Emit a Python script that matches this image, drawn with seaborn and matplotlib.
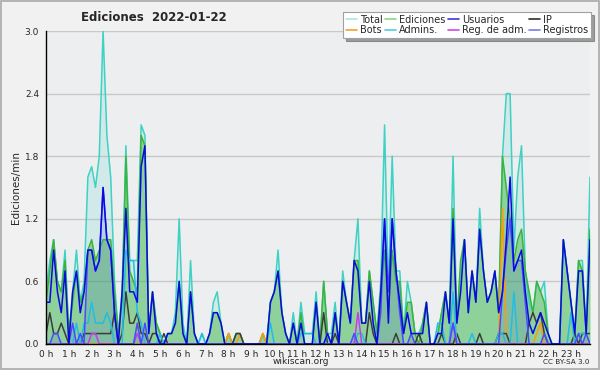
import numpy as np
import pandas as pd
import matplotlib.pyplot as plt
import seaborn as sns
from matplotlib.lines import Line2D
from matplotlib.patches import Rectangle
from matplotlib.ticker import MultipleLocator

# edits per minute, one value every 10 minutes (6 per hour, 0h..23h)
total = [
    0.5, 0.8, 1.0, 0.6, 0.5, 0.9,
    0.1, 0.5, 0.9, 0.4, 0.6, 1.6,
    1.7, 1.5, 1.8, 3.0, 2.0, 1.6,
    0.6, 0.1, 0.5, 1.9, 0.8, 0.8,
    0.8, 2.1, 2.0, 0.1, 0.5, 0.2,
    0.1, 0.0, 0.1, 0.1, 0.3, 1.2,
    0.2, 0.0, 0.8, 0.1, 0.0, 0.1,
    0.0, 0.1, 0.4, 0.5, 0.2, 0.0,
    0.1, 0.0, 0.1, 0.1, 0.0, 0.0,
    0.0, 0.0, 0.0, 0.1, 0.0, 0.4,
    0.5, 0.9, 0.3, 0.1, 0.0, 0.3,
    0.0, 0.4, 0.1, 0.1, 0.1, 0.5,
    0.0, 0.6, 0.1, 0.1, 0.4, 0.0,
    0.7, 0.4, 0.2, 0.8, 1.2, 0.2,
    0.2, 0.7, 0.4, 0.1, 0.6, 2.1,
    0.5, 1.8, 0.7, 0.7, 0.1, 0.6,
    0.4, 0.1, 0.1, 0.2, 0.4, 0.0,
    0.0, 0.1, 0.3, 0.5, 0.2, 1.8,
    0.2, 0.7, 1.0, 0.3, 0.7, 0.4,
    1.3, 0.7, 0.4, 0.5, 0.7, 0.3,
    1.8, 2.4, 2.4, 0.9, 1.6, 1.9,
    0.7, 0.4, 0.3, 0.6, 0.5, 0.6,
    0.1, 0.0, 0.0, 0.0, 1.0, 0.7,
    0.4, 0.1, 0.8, 0.8, 0.1, 1.6,
]
ediciones = [
    0.4, 0.7, 1.0, 0.6, 0.5, 0.8,
    0.1, 0.4, 0.7, 0.4, 0.5, 0.9,
    1.0, 0.8, 0.9, 1.0, 1.0, 1.0,
    0.5, 0.1, 0.4, 1.8, 0.7, 0.6,
    0.5, 2.0, 1.9, 0.1, 0.5, 0.2,
    0.1, 0.0, 0.1, 0.1, 0.2, 0.6,
    0.1, 0.0, 0.5, 0.1, 0.0, 0.0,
    0.0, 0.1, 0.3, 0.3, 0.2, 0.0,
    0.1, 0.0, 0.1, 0.1, 0.0, 0.0,
    0.0, 0.0, 0.0, 0.1, 0.0, 0.4,
    0.5, 0.7, 0.3, 0.1, 0.0, 0.2,
    0.0, 0.3, 0.0, 0.0, 0.0, 0.4,
    0.0, 0.6, 0.1, 0.0, 0.3, 0.0,
    0.6, 0.4, 0.2, 0.8, 0.8, 0.2,
    0.2, 0.7, 0.4, 0.1, 0.5, 0.9,
    0.3, 0.9, 0.6, 0.6, 0.1, 0.4,
    0.4, 0.1, 0.0, 0.2, 0.4, 0.0,
    0.0, 0.1, 0.3, 0.5, 0.2, 1.3,
    0.2, 0.8, 1.0, 0.3, 0.7, 0.4,
    1.1, 0.7, 0.4, 0.5, 0.7, 0.3,
    1.8, 1.5, 1.2, 0.8, 1.0, 1.1,
    0.7, 0.5, 0.3, 0.6, 0.5, 0.4,
    0.1, 0.0, 0.0, 0.0, 1.0, 0.7,
    0.4, 0.1, 0.8, 0.7, 0.1, 1.1,
]
usuarios = [
    0.4, 0.4, 0.9, 0.5, 0.3, 0.7,
    0.0, 0.5, 0.7, 0.3, 0.5, 0.9,
    0.9, 0.7, 0.8, 1.5, 1.0, 0.9,
    0.3, 0.0, 0.5, 1.3, 0.5, 0.5,
    0.4, 1.7, 1.9, 0.1, 0.5, 0.1,
    0.0, 0.0, 0.1, 0.1, 0.2, 0.6,
    0.1, 0.0, 0.5, 0.1, 0.0, 0.0,
    0.0, 0.1, 0.3, 0.3, 0.2, 0.0,
    0.0, 0.0, 0.0, 0.0, 0.0, 0.0,
    0.0, 0.0, 0.0, 0.0, 0.0, 0.4,
    0.5, 0.7, 0.3, 0.1, 0.0, 0.2,
    0.0, 0.2, 0.0, 0.0, 0.0, 0.4,
    0.0, 0.0, 0.1, 0.0, 0.3, 0.0,
    0.6, 0.4, 0.2, 0.8, 0.7, 0.2,
    0.2, 0.6, 0.2, 0.0, 0.5, 1.2,
    0.2, 1.2, 0.7, 0.4, 0.1, 0.3,
    0.1, 0.1, 0.1, 0.1, 0.4, 0.0,
    0.0, 0.1, 0.1, 0.5, 0.2, 1.2,
    0.2, 0.5, 1.0, 0.3, 0.7, 0.4,
    1.1, 0.7, 0.4, 0.5, 0.7, 0.3,
    0.5, 1.0, 1.6, 0.7, 0.8, 0.9,
    0.5, 0.2, 0.1, 0.2, 0.3, 0.2,
    0.1, 0.0, 0.0, 0.0, 1.0, 0.7,
    0.4, 0.1, 0.7, 0.7, 0.1, 1.0,
]
ip = [
    0.1, 0.3, 0.1, 0.1, 0.2, 0.1,
    0.0, 0.0, 0.0, 0.0, 0.1, 0.1,
    0.1, 0.1, 0.1, 0.1, 0.1, 0.1,
    0.3, 0.0, 0.1, 0.5, 0.2, 0.2,
    0.3, 0.1, 0.1, 0.0, 0.1, 0.1,
    0.0, 0.1, 0.0, 0.0, 0.0, 0.0,
    0.0, 0.0, 0.0, 0.0, 0.0, 0.0,
    0.0, 0.0, 0.0, 0.0, 0.0, 0.0,
    0.0, 0.0, 0.1, 0.1, 0.0, 0.0,
    0.0, 0.0, 0.0, 0.0, 0.0, 0.0,
    0.0, 0.0, 0.0, 0.0, 0.0, 0.0,
    0.0, 0.0, 0.0, 0.0, 0.0, 0.0,
    0.0, 0.3, 0.0, 0.0, 0.1, 0.0,
    0.0, 0.0, 0.0, 0.0, 0.0, 0.0,
    0.0, 0.3, 0.1, 0.0, 0.0, 0.0,
    0.0, 0.0, 0.1, 0.0, 0.0, 0.0,
    0.0, 0.0, 0.1, 0.0, 0.0, 0.0,
    0.0, 0.0, 0.1, 0.0, 0.0, 0.0,
    0.1, 0.0, 0.0, 0.0, 0.0, 0.0,
    0.1, 0.0, 0.0, 0.0, 0.0, 0.1,
    0.1, 0.1, 0.0, 0.0, 0.0, 0.0,
    0.0, 0.2, 0.3, 0.2, 0.3, 0.1,
    0.0, 0.0, 0.0, 0.0, 0.0, 0.0,
    0.0, 0.1, 0.0, 0.1, 0.1, 0.1,
]
bots = [0.0] * 144
for i, v in [(48, 0.1), (51, 0.1), (57, 0.1), (119, 0.1), (120, 1.3),
             (121, 0.1), (129, 0.1), (130, 0.2)]:
    bots[i] = v
admins = [0.0] * 144
for i, v in [(8, 0.2), (10, 0.2), (11, 0.2), (12, 0.4), (13, 0.2), (14, 0.2),
             (15, 0.2), (16, 0.3), (17, 0.2), (21, 0.9), (22, 0.8), (23, 0.8),
             (24, 0.3), (25, 0.2), (30, 0.1), (41, 0.1), (59, 0.2),
             (67, 0.1), (68, 0.1), (69, 0.1), (70, 0.1), (74, 0.1),
             (82, 0.1), (83, 0.1), (103, 0.2), (104, 0.2), (107, 0.5),
             (112, 0.1), (119, 0.1), (120, 0.1), (123, 0.5), (138, 0.3),
             (140, 0.1), (141, 0.1), (142, 0.1)]:
    admins[i] = v
reg_adm = [0.0] * 144
for i, v in [(12, 0.1), (13, 0.1), (24, 0.1), (82, 0.3), (107, 0.2)]:
    reg_adm[i] = v
registros = [0.0] * 144
for i, v in [(2, 0.1), (3, 0.1), (7, 0.2), (9, 0.1), (11, 0.9), (12, 0.9),
             (13, 0.7), (14, 0.8), (15, 1.5), (16, 1.0), (17, 0.9), (18, 0.3),
             (24, 0.2), (26, 0.2), (81, 0.1), (88, 0.3), (89, 1.2), (90, 0.5),
             (91, 1.2), (92, 0.7), (93, 0.3), (96, 0.1), (107, 0.2),
             (120, 0.5), (121, 0.9), (122, 1.2), (123, 0.7), (124, 0.8),
             (125, 0.8), (126, 0.4), (131, 0.1), (140, 0.1), (142, 0.1)]:
    registros[i] = v

hours = [f"{h} h" for h in range(24)]

series = {
    "Total": total, "Ediciones": ediciones, "Bots": bots, "IP": ip,
    "Admins.": admins, "Reg. de adm.": reg_adm, "Registros": registros,
    "Usuarios": usuarios,
}
line_colors = {
    "Total": "#3ed2c2", "Ediciones": "#3cb43c", "Bots": "#ff9a10",
    "IP": "#3c3c3c", "Admins.": "#22bde3", "Reg. de adm.": "#c83ce6",
    "Registros": "#4a4aff", "Usuarios": "#0a0ae0",
}
legend_colors = {
    "Total": "#a8e8e0", "Bots": "#f5a030", "Ediciones": "#8ad88a",
    "Admins.": "#50cce0", "Usuarios": "#3a3ad8", "Reg. de adm.": "#d048e8",
    "IP": "#303030", "Registros": "#7a7aec",
}

df = pd.DataFrame(series)
df["slot"] = np.arange(144)
long = df.melt(id_vars="slot", var_name="serie", value_name="val")

sns.set_style("white")
plt.rcParams["font.family"] = ["DejaVu Sans"]

fig = plt.figure(figsize=(6, 3.7), dpi=100, facecolor="#f1f1f1")
fig.patches.append(Rectangle((0.002, 0.003), 0.996, 0.994, transform=fig.transFigure,
                             fill=False, edgecolor="#a8a8a8", lw=1.2))
ax = fig.add_axes([0.0767, 0.0703, 0.9066, 0.8459])
ax.set_facecolor("#eceef0")

ax.fill_between(df["slot"], df["Total"], color="#3ed2c2", alpha=0.15, lw=0)
ax.fill_between(df["slot"], df["Ediciones"], color="#3cb43c", alpha=0.45, lw=0)
ax.fill_between(df["slot"], df["Registros"], color="#5070c0", alpha=0.2, lw=0)

sns.lineplot(data=long, x="slot", y="val", hue="serie", hue_order=list(series),
             palette=line_colors, linewidth=1.1, legend=False, ax=ax)

ax.set_xlim(0, 143)
ax.set_ylim(0, 3.0)
ax.set_xticks(np.arange(0, 144, 6))
ax.set_xticklabels(hours, fontsize=6.5)
ax.xaxis.set_minor_locator(MultipleLocator(1))
ax.yaxis.set_major_locator(MultipleLocator(0.6))
ax.yaxis.set_minor_locator(MultipleLocator(0.15))
ax.yaxis.set_major_formatter(lambda v, p: f"{v:.1f}")
ax.tick_params(axis="y", labelsize=6.5, length=4, width=0.8, pad=1)
ax.tick_params(axis="x", length=4, width=0.8, pad=0)
ax.tick_params(which="minor", length=3, width=0.8)
ax.grid(axis="y", color="#c8c8c8", lw=1)
ax.set_axisbelow(True)
for s in ["top", "right"]:
    ax.spines[s].set_visible(False)
for s in ["left", "bottom"]:
    ax.spines[s].set_color("black")
    ax.spines[s].set_linewidth(1)

ax.set_xlabel("")
ax.set_ylabel("Ediciones/min", fontsize=7.5, labelpad=3)
fig.text(0.502, 0.022, "wikiscan.org", ha="center", va="center", fontsize=6.5)
fig.text(0.983, 0.022, "CC BY-SA 3.0", ha="right", va="center", fontsize=5.2)

fig.text(0.257, 0.953, "Ediciones  2022-01-22", ha="center", va="center",
         fontsize=8.5, fontweight="bold")

order = ["Total", "Bots", "Ediciones", "Admins.", "Usuarios", "Reg. de adm.",
         "IP", "Registros"]
handles = [Line2D([], [], color=legend_colors[k], lw=1.2) for k in order]
leg = fig.legend(handles, order, loc="upper right", bbox_to_anchor=(0.985, 0.968),
                 ncol=4, fontsize=7, frameon=True, fancybox=False, shadow=True,
                 framealpha=1, edgecolor="#a0a0a0", handlelength=1.1,
                 handletextpad=0.3, columnspacing=0.3, labelspacing=0.05,
                 borderpad=0.3, borderaxespad=0)
leg.get_frame().set_linewidth(0.8)

fig.savefig("out.png", dpi=100, facecolor=fig.get_facecolor())
